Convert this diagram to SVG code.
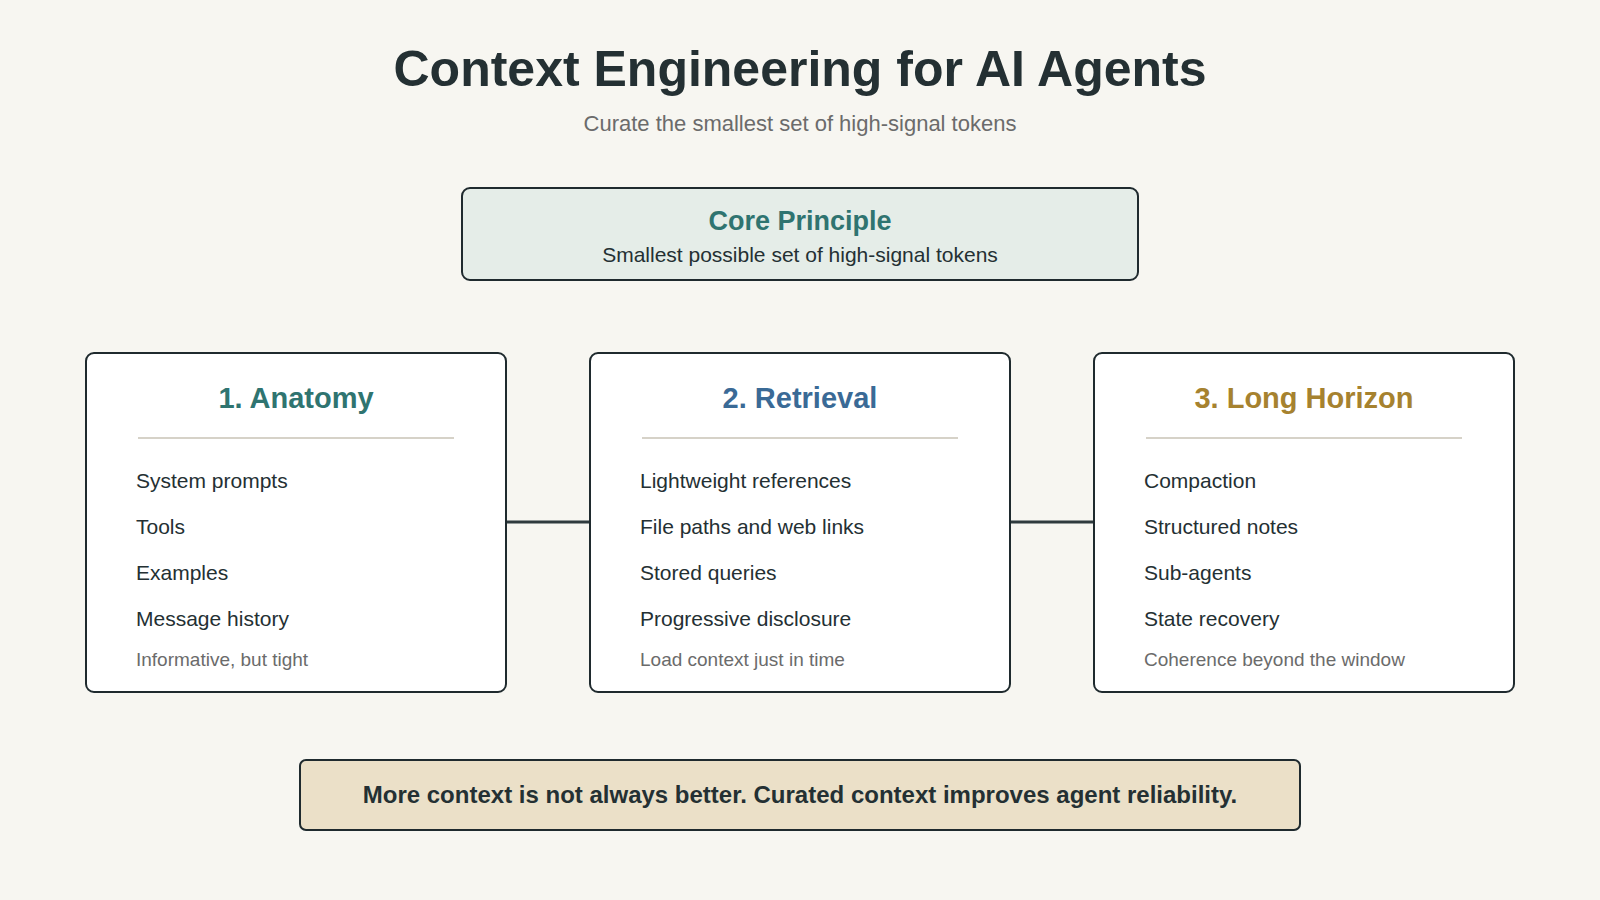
<svg xmlns="http://www.w3.org/2000/svg" width="1600" height="900" viewBox="0 0 1600 900">
<style>
text{font-family:"Liberation Sans",Arial,sans-serif}
.card{fill:#fff;stroke:#1f2a2e;stroke-width:2}
.ct{font-size:29px;font-weight:bold;text-anchor:middle}
.it{font-size:21px;fill:#243033}
.nt{font-size:19px;fill:#6b6b6b}
.dv{stroke:#d6d2c8;stroke-width:2}
</style>
<rect width="1600" height="900" fill="#f7f6f1"/>
<text x="800" y="86" font-size="50" font-weight="bold" fill="#243033" text-anchor="middle">Context Engineering for AI Agents</text>
<text x="800" y="131" font-size="22" fill="#6b6b6b" text-anchor="middle">Curate the smallest set of high-signal tokens</text>
<g id="core">
<rect x="462" y="188" width="676" height="92" rx="8" fill="#e5ede8" stroke="#1f2a2e" stroke-width="2"/>
<text x="800" y="230" font-size="27" font-weight="bold" fill="#2f7470" text-anchor="middle">Core Principle</text>
<text x="800" y="262" font-size="21" fill="#243033" text-anchor="middle">Smallest possible set of high-signal tokens</text>
</g>
<g id="connectors" stroke="#2f3b3e" stroke-width="3">
<line x1="506" y1="522" x2="590" y2="522"/>
<line x1="1010" y1="522" x2="1094" y2="522"/>
</g>
<g id="anatomy">
<rect class="card" x="86" y="353" width="420" height="339" rx="8"/>
<text class="ct" x="296" y="408" fill="#2f7470">1. Anatomy</text>
<line class="dv" x1="138" y1="438" x2="454" y2="438"/>
<text class="it" x="136" y="488">System prompts</text>
<text class="it" x="136" y="534">Tools</text>
<text class="it" x="136" y="580">Examples</text>
<text class="it" x="136" y="626">Message history</text>
<text class="nt" x="136" y="666">Informative, but tight</text>
</g>
<g id="retrieval">
<rect class="card" x="590" y="353" width="420" height="339" rx="8"/>
<text class="ct" x="800" y="408" fill="#3a6a96">2. Retrieval</text>
<line class="dv" x1="642" y1="438" x2="958" y2="438"/>
<text class="it" x="640" y="488">Lightweight references</text>
<text class="it" x="640" y="534">File paths and web links</text>
<text class="it" x="640" y="580">Stored queries</text>
<text class="it" x="640" y="626">Progressive disclosure</text>
<text class="nt" x="640" y="666">Load context just in time</text>
</g>
<g id="longhorizon">
<rect class="card" x="1094" y="353" width="420" height="339" rx="8"/>
<text class="ct" x="1304" y="408" fill="#a6822f">3. Long Horizon</text>
<line class="dv" x1="1146" y1="438" x2="1462" y2="438"/>
<text class="it" x="1144" y="488">Compaction</text>
<text class="it" x="1144" y="534">Structured notes</text>
<text class="it" x="1144" y="580">Sub-agents</text>
<text class="it" x="1144" y="626">State recovery</text>
<text class="nt" x="1144" y="666">Coherence beyond the window</text>
</g>
<g id="takeaway">
<rect x="300" y="760" width="1000" height="70" rx="6" fill="#ebe0c8" stroke="#1f2a2e" stroke-width="2"/>
<text x="800" y="803" font-size="24" font-weight="bold" fill="#243033" text-anchor="middle">More context is not always better. Curated context improves agent reliability.</text>
</g>
</svg>
